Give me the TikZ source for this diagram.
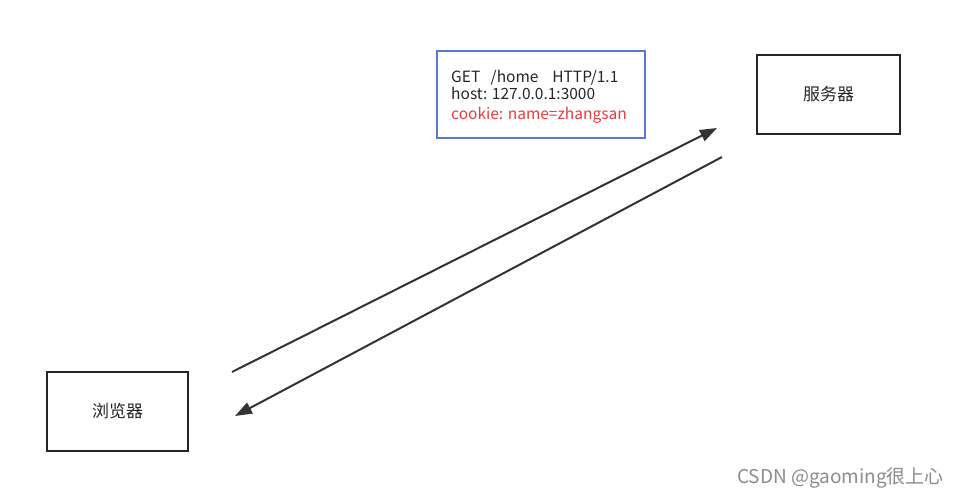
\documentclass[tikz,border=0pt]{standalone}
\usepackage{fontspec}
\setmainfont{Noto Sans CJK SC}
\usetikzlibrary{arrows.meta}
\begin{document}
\begin{tikzpicture}[x=1pt,y=-1pt,
  box/.style={draw=black!85,line width=2.6pt,minimum width=141pt,minimum height=79pt,inner sep=0pt,font=\fontsize{17}{19}\selectfont,text=black!85},
  reqline/.style={anchor=base west,inner sep=0pt,font=\fontsize{15.5}{17}\selectfont,text=black!85},
  conn/.style={draw=black!80,line width=2pt,-{Triangle[length=17pt,width=12pt]}}]
\useasboundingbox[fill=white] (0,0) rectangle (959,496);
\node[box] (browser) at (117.5,411.5) {浏览器};
\node[box,minimum width=143pt] (server) at (828.5,94.5) {服务器};
\node[draw={rgb,255:red,90;green,120;blue,210},line width=2.6pt,minimum width=208pt,minimum height=87pt,inner sep=0pt] (req) at (541,94.5) {};
\node[reqline] (l1) at (451,82) {GET\ \ \ /home\ \ \ \ HTTP/1.1};
\node[reqline] (l2) at (451,99.5) {host: 127.0.0.1:3000};
\node[reqline,text={rgb,255:red,230;green,60;blue,60}] (l3) at (451,119.5) {cookie: name=zhangsan};
\coordinate (a1) at (232,372);
\coordinate (a2) at (717,128);
\coordinate (b1) at (722,157);
\coordinate (b2) at (235,416);
\draw[conn] (a1) -- (a2);
\draw[conn] (b1) -- (b2);
\node[anchor=base east,inner sep=0pt,font=\fontsize{19}{21}\selectfont,text=black!45] (wm) at (944,483) {CSDN @gaoming很上心};
\end{tikzpicture}
\end{document}
